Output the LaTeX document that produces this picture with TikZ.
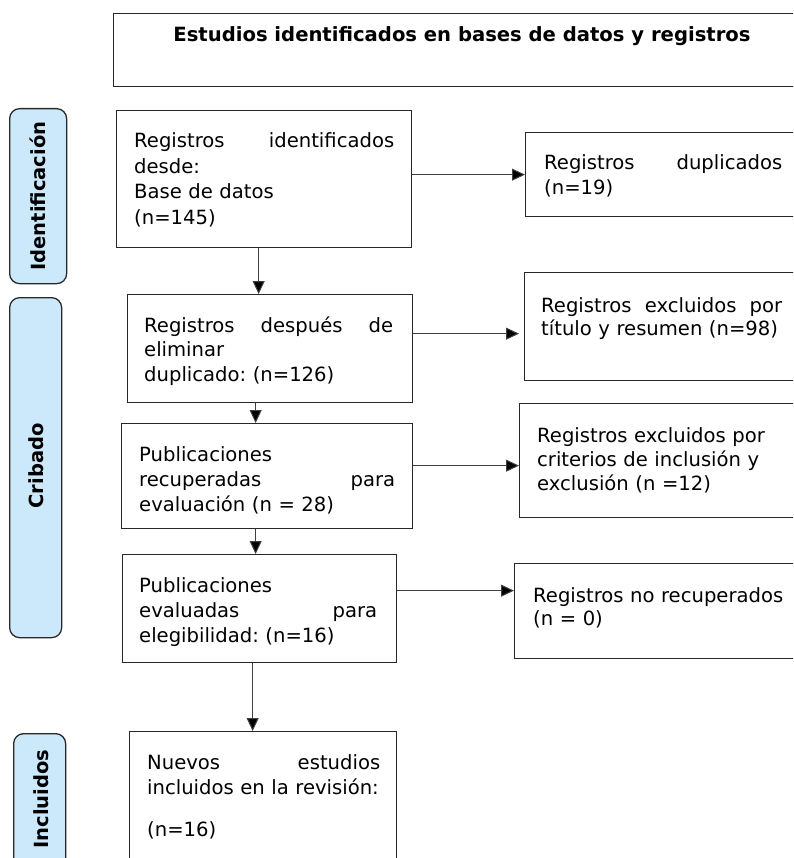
\documentclass[tikz,border=0pt]{standalone}
\usepackage{fontspec}
\setmainfont{DejaVu Sans}
\usetikzlibrary{arrows.meta}
\definecolor{pill}{RGB}{204,233,252}
\definecolor{edge}{RGB}{40,40,40}
\frenchspacing
\begin{document}
\begin{tikzpicture}[x=1pt,y=-1pt,
  box/.style={draw=edge, line width=1.3pt, inner sep=0pt, anchor=north west},
  txt/.style={anchor=base west, inner sep=0pt, align=left},
  pillbox/.style={draw=edge, fill=pill, line width=1.3pt, rounded corners=10pt, inner sep=0pt, anchor=north west},
  plabel/.style={rotate=90, font=\bfseries\fontsize{19.5}{21}\selectfont, inner sep=0pt},
  arr/.style={draw=black!75, line width=1pt, -{Triangle[length=13pt,width=12pt,fill=black]}}]
\useasboundingbox (0,0) rectangle (793,858);
\clip (0,0) rectangle (793,858);

% side pills
\node[pillbox, minimum width=57pt, minimum height=175pt] (pI) at (9,108) {};
\node[pillbox, minimum width=52pt, minimum height=340pt] (pC) at (9,297) {};
\node[pillbox, minimum width=52pt, minimum height=200pt] (pN) at (13,733) {};
\node[plabel] (lI) at (38,196) {Identificación};
\node[plabel] (lC) at (36,466) {Cribado};
\node[plabel] (lN) at (41,799) {Incluidos};

% boxes
\node[box, minimum width=720pt, minimum height=73pt] (top) at (113,13) {};
\node[box, minimum width=295pt, minimum height=137pt] (b1) at (116,110) {};
\node[box, minimum width=290pt, minimum height=84pt] (dup) at (525,132) {};
\node[box, minimum width=285pt, minimum height=108pt] (b2) at (127,294) {};
\node[box, minimum width=290pt, minimum height=108pt] (e1) at (524,272) {};
\node[box, minimum width=291pt, minimum height=105pt] (b3) at (121,423) {};
\node[box, minimum width=290pt, minimum height=114pt] (e2) at (519,403) {};
\node[box, minimum width=274pt, minimum height=108pt] (b4) at (122,554) {};
\node[box, minimum width=290pt, minimum height=95pt] (e3) at (514,563) {};
\node[box, minimum width=267pt, minimum height=200pt] (b5) at (129,731) {};

% texts
\node[anchor=base, inner sep=0pt, font=\bfseries\fontsize{19.6}{21}\selectfont] (t0) at (462,42) {Estudios identificados en bases de datos y registros};
\node[txt, text width=260pt, font=\fontsize{19.6}{25.5}\selectfont] (t1) at (134,148) {Registros\hfill identificados\\desde:\\Base de datos\\(n=145)};
\node[txt, text width=238pt, font=\fontsize{19.6}{25}\selectfont] (tdup) at (544,170) {Registros\hfill duplicados\\(n=19)};
\node[txt, text width=249pt, font=\fontsize{19.6}{24.5}\selectfont] (t2) at (144,332) {Registros\hfill después\hfill de\\eliminar\\duplicado: (n=126)};
\node[txt, text width=241pt, font=\fontsize{19.6}{23.5}\selectfont] (te1) at (541,312) {Registros\hfill excluidos\hfill por\\título y resumen (n=98)};
\node[txt, text width=256pt, font=\fontsize{19.6}{25}\selectfont] (t3) at (139,461) {Publicaciones\\recuperadas\hfill para\\evaluación (n = 28)};
\node[txt, text width=250pt, font=\fontsize{19.6}{24}\selectfont] (te2) at (537,442) {Registros excluidos por\\criterios de inclusión y\\exclusión (n =12)};
\node[txt, text width=238pt, font=\fontsize{19.6}{25}\selectfont] (t4) at (139,592) {Publicaciones\\evaluadas\hfill para\\elegibilidad: (n=16)};
\node[txt, text width=255pt, font=\fontsize{19.6}{23}\selectfont] (te3) at (533,602) {Registros no recuperados\\(n = 0)};
\node[txt, text width=233pt, font=\fontsize{19.6}{25}\selectfont] (t5) at (147,769) {Nuevos\hfill estudios\\\mbox{incluidos en la revisión:}\\[17pt](n=16)};

% connectors
\draw[arr] (b1.east |- dup.west) -- (dup.west);
\coordinate (v1) at ([xshift=-5.5pt]b1.south);
\draw[arr] (v1) -- (v1 |- b2.north);
\coordinate (a1) at ([yshift=-7pt]e1.west);
\draw[arr, shorten >=5pt] (b2.east |- a1) -- (a1);
\coordinate (v2) at ([xshift=-14.5pt]b2.south);
\draw[arr] (v2) -- (v2 |- b3.north);
\coordinate (a2) at ([yshift=-5pt]e2.west);
\draw[arr] (b3.east |- a2) -- (a2);
\coordinate (v3) at ([xshift=-11.5pt]b3.south);
\draw[arr] (v3) -- (v3 |- b4.north);
\coordinate (a3) at ([yshift=20.5pt]e3.west);
\draw[arr] (b4.east |- a3) -- (a3);
\coordinate (v4) at ([xshift=-7pt]b4.south);
\draw[arr] (v4) -- (v4 |- b5.north);
\end{tikzpicture}
\end{document}
